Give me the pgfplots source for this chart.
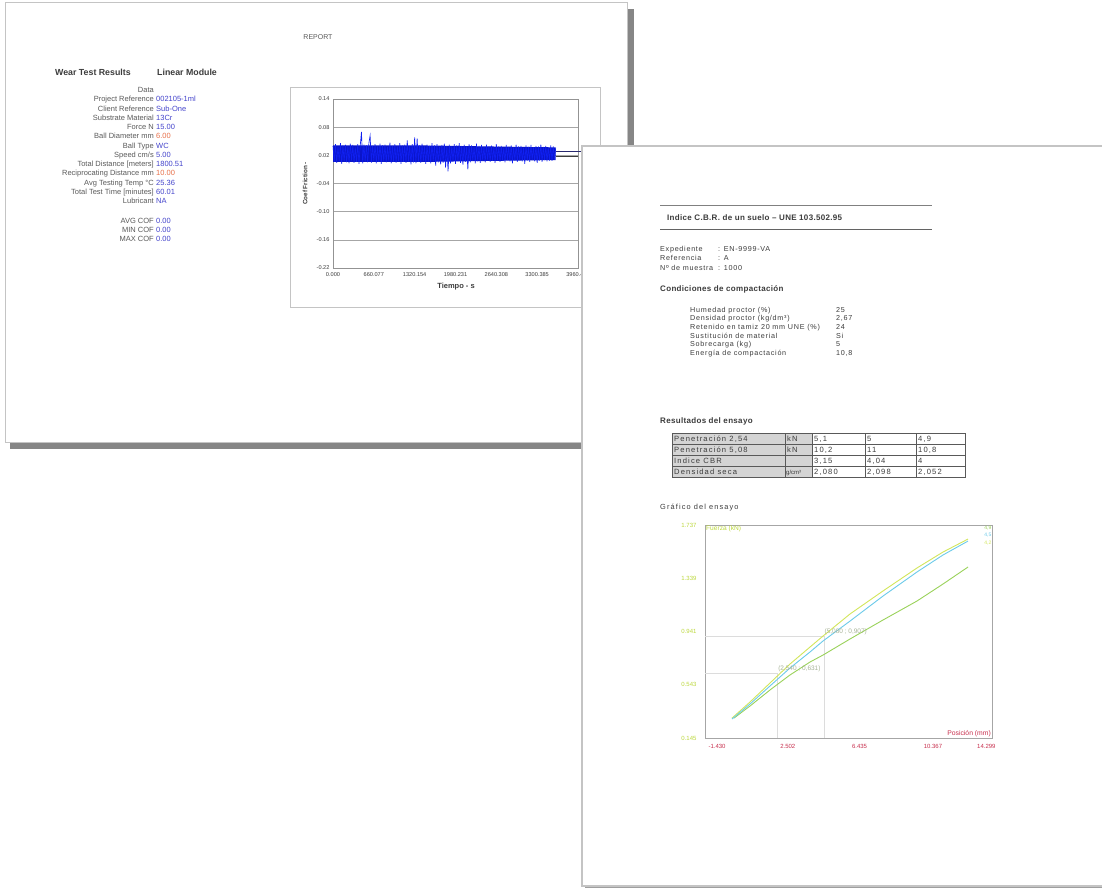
\documentclass[border=0pt]{standalone}
\usepackage{fontspec}
\setmainfont{Liberation Sans}
\newfontfamily\spf[LetterSpace=10]{Liberation Sans}
\newfontfamily\spt[LetterSpace=15]{Liberation Sans}
\newfontfamily\sph[LetterSpace=4]{Liberation Sans}
\usepackage{pgfplots}
\pgfplotsset{compat=1.18}
\definecolor{ltxt}{HTML}{5A5A5A}
\definecolor{dtxt}{HTML}{3C3C3C}
\definecolor{vblue}{HTML}{4444CC}
\definecolor{vred}{HTML}{E8704A}
\definecolor{pbord}{HTML}{C4C4C4}
\definecolor{shad}{HTML}{868686}
\definecolor{c1blue}{HTML}{1020F0}
\definecolor{c1core}{HTML}{0A14C8}
\definecolor{c2yel}{HTML}{D2E65A}
\definecolor{c2cyan}{HTML}{6CCBEA}
\definecolor{c2grn}{HTML}{9AD25A}
\definecolor{c2lab}{HTML}{BCD83C}
\definecolor{c2red}{HTML}{C8304E}
\definecolor{gridc}{HTML}{DCDCDC}
\definecolor{tgray}{HTML}{D4D4D4}
\definecolor{anncol}{HTML}{A8B498}
\newcommand{\fs}[1]{\fontsize{#1}{#1}\selectfont}
\newcommand{\prow}[4]{%
 \node[anchor=base east,inner sep=0,text=ltxt,font=\fs{7.5}] at (154,#1) {#2};%
 \node[anchor=base west,inner sep=0,text=#4,font=\fs{7.5}] at (156,#1) {#3};}
\newcommand{\trow}[3]{\node[anchor=base west,inner sep=0,font=\spf\fs{7.2},text=dtxt] at (#1,#2) {#3};}
\newcommand{\tcell}[3]{\node[anchor=base west,inner sep=0,font=\spt\fs{7.6},text=dtxt] at (#1,#2) {#3};}
\begin{document}
\begin{tikzpicture}
\path[use as bounding box] (0,0) rectangle (1102pt,-888pt);
\clip (0,0) rectangle (1102pt,-888pt);
\begin{scope}[x=1pt,y=-1pt]
\fill[white] (0,0) rectangle (1102,888);
\fill[shad] (628,9) rectangle (634,449);
\fill[shad] (10,443) rectangle (634,449);
\draw[pbord,fill=white,line width=1pt] (5,3) rectangle (627,442);
\node[font=\fs{7},text=ltxt] at (318,37) {REPORT};
\node[anchor=base west,inner sep=0,font=\bfseries\fs{8.8},text=dtxt] at (55,75.2) {Wear Test Results};
\node[anchor=base west,inner sep=0,font=\bfseries\fs{8.8},text=dtxt] at (157,75.2) {Linear Module};
\prow{92.7}{Data}{}{vblue}
\prow{101.95}{Project Reference}{002105-1ml}{vblue}
\prow{111.2}{Client Reference}{Sub-One}{vblue}
\prow{120.45}{Substrate Material}{13Cr}{vblue}
\prow{129.7}{Force N}{15.00}{vblue}
\prow{138.95}{Ball Diameter mm}{6.00}{vred}
\prow{148.2}{Ball Type}{WC}{vblue}
\prow{157.45}{Speed cm/s}{5.00}{vblue}
\prow{166.7}{Total Distance [meters]}{1800.51}{vblue}
\prow{175.95}{Reciprocating Distance mm}{10.00}{vred}
\prow{185.2}{Avg Testing Temp °C}{25.36}{vblue}
\prow{194.45}{Total Test Time [minutes]}{60.01}{vblue}
\prow{203.7}{Lubricant}{NA}{vblue}
\prow{223.7}{AVG COF}{0.00}{vblue}
\prow{232.4}{MIN COF}{0.00}{vblue}
\prow{241.2}{MAX COF}{0.00}{vblue}
\draw[pbord,line width=0.8pt] (290,87) rectangle (600,307);
\node[rotate=90,font=\bfseries\fs{6.3},text=dtxt] at (305,183.5) {Coef Friction -};
\node[font=\bfseries\fs{7.5},text=dtxt] at (456,287) {Tiempo - s};
\end{scope}

\begin{axis}[at={(333pt,-268pt)},anchor=south west,scale only axis,width=245pt,height=169pt,
 xmin=0,xmax=3960.462,ymin=-0.22,ymax=0.14,
 xtick={0,660.077,1320.154,1980.231,2640.308,3300.385,3960.462},
 xticklabels={0.000,660.077,1320.154,1980.231,2640.308,3300.385,3960.462},
 ytick={-0.22,-0.16,-0.10,-0.04,0.02,0.08,0.14},
 yticklabels={-0.22,-0.16,-0.10,-0.04,0.02,0.08,0.14},
 tick label style={font=\fs{5.6},text=dtxt},
 xticklabel style={yshift=-1.5pt},
 major tick length=0,axis line style={draw=gray!85,line width=0.5pt},
 ymajorgrids,grid style={gray!70,line width=0.35pt},clip=false]
\addplot[draw=none,fill=c1core] coordinates {(0,0.006)(1500,0.006)(2500,0.008)(3600,0.010)(3600,0.037)(2500,0.039)(1500,0.041)(0,0.041)} --cycle;
\addplot[c1blue,line width=0.65pt] coordinates {
(0,0.040)(20,0.006)(40,0.044)(60,0.004)(80,0.038)(100,0.008)(120,0.046)(140,0.002)(160,0.041)(180,0.007)
(200,0.043)(220,0.005)(240,0.039)(260,0.003)(280,0.045)(300,0.009)(320,0.042)(340,0.004)(360,0.037)(380,0.006)
(400,0.044)(420,0.002)(440,0.040)(460,0.070)(480,0.003)(500,0.043)(520,0.007)(540,0.041)(560,0.005)(580,0.046)
(600,0.062)(620,0.004)(640,0.040)(660,0.008)(680,0.044)(700,0.003)(720,0.039)(740,0.006)(760,0.045)(780,0.002)
(800,0.041)(820,0.007)(840,0.043)(860,0.005)(880,0.038)(900,0.009)(920,0.047)(940,0.003)(960,0.040)(980,0.006)
(1000,0.044)(1020,0.004)(1040,0.039)(1060,0.008)(1080,0.046)(1100,0.002)(1120,0.041)(1140,0.006)(1160,0.043)(1180,0.004)
(1200,0.052)(1220,0.007)(1240,0.040)(1260,0.001)(1280,0.044)(1300,0.005)(1320,0.058)(1340,0.003)(1360,0.056)(1380,0.006)
(1400,0.041)(1420,0.004)(1440,0.045)(1460,0.008)(1480,0.039)(1500,0.002)(1520,0.043)(1540,0.006)(1560,0.040)(1580,0.003)
(1600,0.046)(1620,0.007)(1640,0.041)(1660,-0.002)(1680,0.044)(1700,0.005)(1720,0.038)(1740,0.001)(1760,0.042)(1780,0.004)
(1800,0.045)(1820,-0.006)(1840,0.040)(1860,-0.014)(1880,0.043)(1900,0.003)(1920,0.039)(1940,0.006)(1960,0.044)(1980,0.002)
(2000,0.041)(2020,0.007)(2040,0.046)(2060,0.004)(2080,0.040)(2100,0.000)(2120,0.043)(2140,0.006)(2160,0.039)(2180,-0.010)
(2200,0.044)(2220,0.005)(2240,0.041)(2260,0.008)(2280,0.037)(2300,0.003)(2320,0.045)(2340,0.007)(2360,0.040)(2380,0.004)
(2400,0.042)(2420,0.009)(2440,0.038)(2460,0.005)(2480,0.043)(2500,0.010)(2520,0.039)(2540,0.006)(2560,0.041)(2580,0.008)
(2600,0.037)(2620,0.004)(2640,0.044)(2660,0.010)(2680,0.039)(2700,0.006)(2720,0.040)(2740,0.009)(2760,0.036)(2780,0.005)
(2800,0.042)(2820,0.010)(2840,0.038)(2860,0.007)(2880,0.041)(2900,0.003)(2920,0.037)(2940,0.009)(2960,0.043)(2980,0.006)
(3000,0.039)(3020,0.010)(3040,0.040)(3060,0.007)(3080,0.036)(3100,0.002)(3120,0.041)(3140,0.009)(3160,0.038)(3180,0.006)
(3200,0.042)(3220,0.010)(3240,0.037)(3260,0.007)(3280,0.040)(3300,0.004)(3320,0.039)(3340,0.009)(3360,0.043)(3380,0.006)
(3400,0.038)(3420,0.010)(3440,0.040)(3460,0.007)(3480,0.037)(3500,0.009)(3520,0.041)(3540,0.008)(3560,0.039)(3580,0.011)
(3600,0.036)};
\addplot[color={rgb,255:red,40;green,40;blue,110},line width=0.6pt] coordinates {(3600,0.0285)(4316,0.0285)};
\addplot[color=dtxt,line width=0.5pt] coordinates {(3600,0.0179)(3960.462,0.0179)};
\end{axis}

\begin{scope}[x=1pt,y=-1pt]
\fill[gray!75] (585,885) rectangle (1110,889);
\draw[pbord,fill=white,line width=1.2pt] (582,146) rectangle (1115,886);
\draw[gray,line width=0.6pt] (660,205) -- (932,205);
\node[anchor=base west,inner sep=0,font=\sph\bfseries\fs{8},text=dtxt] at (667,220.9) {Indice C.B.R. de un suelo – UNE 103.502.95};
\draw[dtxt!80,line width=1pt] (660,229) -- (932,229);
\trow{660}{251.6}{Expediente}
\trow{718}{251.6}{: EN-9999-VA}
\trow{660}{260.9}{Referencia}
\trow{718}{260.9}{: A}
\trow{660}{270.9}{Nº de muestra}
\trow{718}{270.9}{: 1000}
\node[anchor=base west,inner sep=0,font=\sph\bfseries\fs{8},text=dtxt] at (660,291.7) {Condiciones de compactación};
\trow{690}{312.6}{Humedad proctor (\%)}
\trow{836}{312.6}{25}
\trow{690}{320.9}{Densidad proctor (kg/dm³)}
\trow{836}{320.9}{2,67}
\trow{690}{329.3}{Retenido en tamiz 20 mm UNE (\%)}
\trow{836}{329.3}{24}
\trow{690}{338.3}{Sustitución de material}
\trow{836}{338.3}{Si}
\trow{690}{346.6}{Sobrecarga (kg)}
\trow{836}{346.6}{5}
\trow{690}{355.3}{Energía de compactación}
\trow{836}{355.3}{10,8}
\node[anchor=base west,inner sep=0,font=\sph\bfseries\fs{8},text=dtxt] at (660,423.4) {Resultados del ensayo};
\fill[tgray] (672,433) rectangle (812,477);
\draw[dtxt!85,line width=0.9pt] (672,433) rectangle (965,477);
\foreach \yy in {444,455,466} \draw[dtxt!85,line width=0.9pt] (672,\yy) -- (965,\yy);
\foreach \xx in {785,812,865,916} \draw[dtxt!85,line width=0.7pt] (\xx,433) -- (\xx,477);
\tcell{674}{441.2}{Penetración 2,54}
\tcell{787}{441.2}{kN}
\tcell{814}{441.2}{5,1}
\tcell{867}{441.2}{5}
\tcell{918}{441.2}{4,9}
\tcell{674}{452.2}{Penetración 5,08}
\tcell{787}{452.2}{kN}
\tcell{814}{452.2}{10,2}
\tcell{867}{452.2}{11}
\tcell{918}{452.2}{10,8}
\tcell{674}{463.2}{Indice CBR}
\tcell{814}{463.2}{3,15}
\tcell{867}{463.2}{4,04}
\tcell{918}{463.2}{4}
\tcell{674}{474.2}{Densidad seca}
\node[anchor=base west,inner sep=0,font=\fs{6},text=dtxt] at (786,474.2) {g/cm³};
\tcell{814}{474.2}{2,080}
\tcell{867}{474.2}{2,098}
\tcell{918}{474.2}{2,052}
\node[anchor=base west,inner sep=0,font=\spt\fs{7.4},text=dtxt] at (660,509.6) {Gráfico del ensayo};
\end{scope}

\begin{axis}[at={(705pt,-738pt)},anchor=south west,scale only axis,width=287pt,height=213pt,
 xmin=-1.430,xmax=14.299,ymin=0.145,ymax=1.737,
 xtick={-1.430,2.502,6.435,10.367,14.299},
 xticklabels={-1.430,2.502,6.435,10.367,\llap{14.299}},
 xticklabel style={anchor=north west,font=\fs{6},text=c2red,yshift=-2.5pt},
 ytick={0.145,0.543,0.941,1.339,1.737},
 yticklabels={0.145,0.543,0.941,1.339,1.737},
 yticklabel style={font=\fs{6},text=c2lab,xshift=-5pt},
 major tick length=0,axis line style={draw=gray!70,line width=0.6pt},clip=false]
\addplot[gridc,line width=0.5pt] coordinates {(-1.430,0.631)(2.54,0.631)(2.54,0.145)};
\addplot[gridc,line width=0.5pt] coordinates {(-1.430,0.907)(5.08,0.907)(5.08,0.145)};
\addplot[c2grn,line width=0.9pt] coordinates {(0.159,0.294)(1.036,0.384)(2.132,0.504)(3.228,0.616)(4.325,0.713)(5.037,0.765)(6.517,0.885)(8.325,1.027)(10.189,1.169)(11.614,1.296)(12.984,1.423)};
\addplot[c2yel,line width=0.9pt] coordinates {(0.050,0.294)(1.036,0.414)(2.132,0.556)(3.228,0.698)(4.325,0.825)(5.037,0.907)(6.517,1.072)(8.325,1.244)(10.189,1.416)(11.614,1.535)(12.984,1.632)};
\addplot[c2cyan,line width=0.9pt] coordinates {(0.050,0.287)(1.036,0.399)(2.132,0.534)(3.228,0.668)(4.325,0.788)(5.037,0.870)(6.517,1.019)(8.325,1.206)(10.189,1.386)(11.614,1.513)(12.984,1.617)};
\node[anchor=south west,inner sep=0.6pt,font=\fs{6.5},text=anncol] at (axis cs:2.54,0.631) {(2,540 ; 0,631)};
\node[anchor=south west,inner sep=0.6pt,font=\fs{6.5},text=anncol] at (axis cs:5.08,0.907) {(5,080 ; 0,907)};
\node[anchor=north west,inner sep=1pt,font=\fs{6.6},text=c2lab] at (axis cs:-1.430,1.737) {Fuerza (kN)};
\node[anchor=south east,inner sep=1pt,font=\fs{6.8},text=c2red] at (axis cs:14.299,0.145) {Posición (mm)};
\node[anchor=north east,inner sep=0.5pt,font=\fs{5},text=c2grn] at (axis cs:14.299,1.737) {4,9};
\node[anchor=north east,inner sep=0.5pt,font=\fs{5},text=c2cyan,yshift=-7.5pt] at (axis cs:14.299,1.737) {4,5};
\node[anchor=north east,inner sep=0.5pt,font=\fs{5},text=c2yel,yshift=-15pt] at (axis cs:14.299,1.737) {4,2};
\end{axis}
\end{tikzpicture}
\end{document}
